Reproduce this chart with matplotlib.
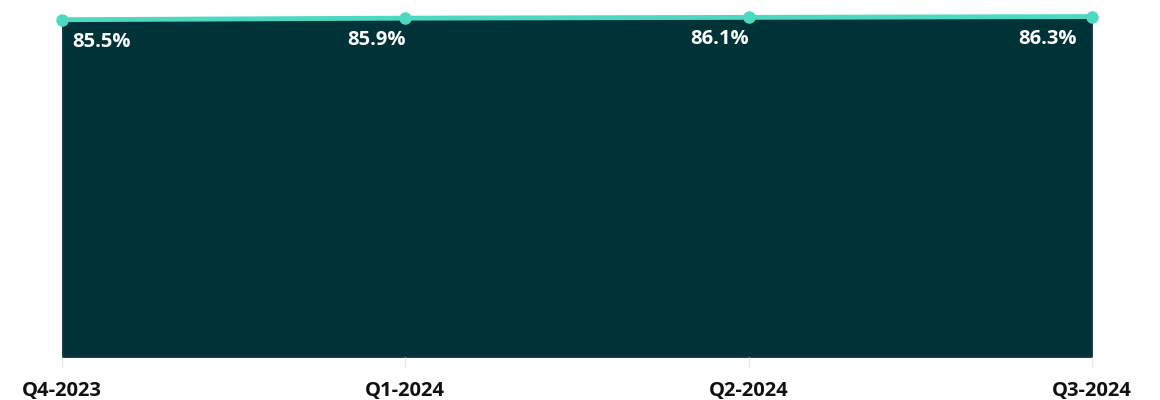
import matplotlib
matplotlib.use("Agg")
import matplotlib.pyplot as plt

quarters = ["Q4-2023", "Q1-2024", "Q2-2024", "Q3-2024"]
values = [85.5, 85.9, 86.1, 86.3]
labels = ["85.5%", "85.9%", "86.1%", "86.3%"]

plt.rcParams['font.family'] = ['Open Sans', 'DejaVu Sans']

fig = plt.figure(figsize=(11.6, 4.0), dpi=100)
ax = fig.add_axes([62/1160, 43/400, 1030/1160, 357/400])
x = list(range(len(quarters)))
ax.fill_between(x, 0, values, color="#003338", linewidth=1.5, edgecolor="#1f3f44")
ax.plot(x, values, color="#4dd9c1", linewidth=3.5, marker="o", markersize=8,
        clip_on=False, zorder=5)
ax.set_xlim(0, len(quarters) - 1)
ax.set_ylim(0, 90.5)
ax.set_yticks([])
ax.set_xticks(x)
ax.set_xticklabels(quarters, fontsize=14.5, fontweight="bold", color="#111111")
ax.tick_params(axis="x", length=7, color="#e8e8e8", width=1, pad=10)
for s in ax.spines.values():
    s.set_visible(False)

offsets = [(10, "left"), (0, "right"), (0, "right"), (-15, "right")]
for xi, v, lab, (dx, ha) in zip(x, values, labels, offsets):
    ax.annotate(lab, (xi, v), xytext=(dx, -22), textcoords="offset pixels",
                ha=ha, va="center", color="white", fontsize=14.5, fontweight="bold")

fig.savefig("out.png", dpi=100)
